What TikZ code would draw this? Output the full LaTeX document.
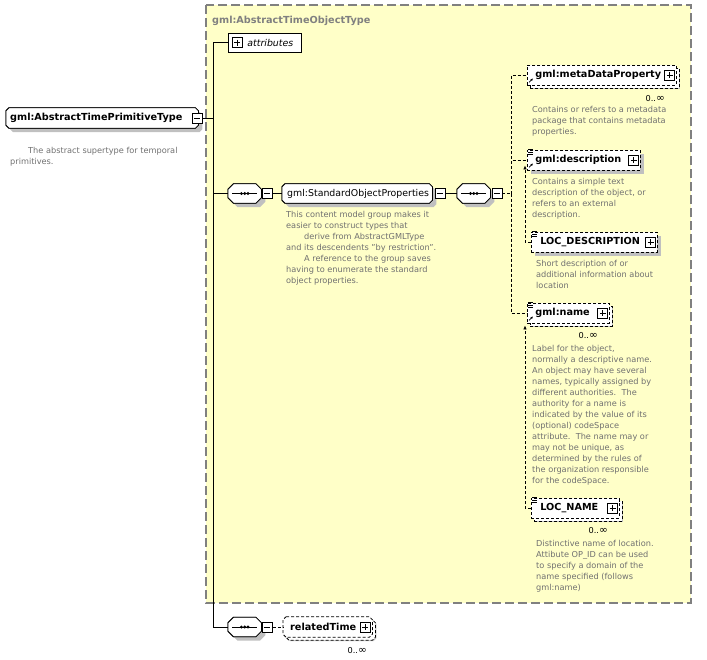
\documentclass[tikz,border=0pt]{standalone}
\usepackage{fontspec}
\setmainfont{DejaVu Sans}
\usetikzlibrary{shadows,arrows.meta,positioning}
\definecolor{areacolor}{HTML}{FFFFC8}
\definecolor{framegray}{HTML}{808080}
\definecolor{notegray}{HTML}{707070}
\definecolor{shadowgray}{HTML}{C0C0C0}
\pgfdeclarelayer{backdrop}
\pgfdeclarelayer{boxes}
\pgfsetlayers{backdrop,boxes,main}
\newcommand{\octpath}[2]{([xshift=#2]#1.north west) -- ([xshift=-#2]#1.north east) -- ([yshift=-#2]#1.north east) -- ([yshift=#2]#1.south east) -- ([xshift=-#2]#1.south east) -- ([xshift=#2]#1.south west) -- ([yshift=#2]#1.south west) -- ([yshift=-#2]#1.north west) -- cycle}
\tikzset{
	typearea/.style={
		draw=framegray,
		fill=areacolor,
		line width=1.2pt,
		dash pattern=on 9pt off 4pt
	},
	typetitle/.style={
		anchor=base west,
		inner sep=0pt,
		text=framegray,
		font=\bfseries\fontsize{9.7}{11}\selectfont
	},
	box/.style={
		rectangle,
		minimum height=20pt,
		inner xsep=0pt,
		inner ysep=0pt,
		anchor=west,
		align=left,
		font=\bfseries\fontsize{9.7}{11}\selectfont
	},
	elem/.style={
		box,
		draw=black,
		fill=white,
		line width=0.8pt,
		drop shadow={shadow xshift=4pt,shadow yshift=-4pt,fill=shadowgray,opacity=1}
	},
	optelem/.style={
		elem,
		dash pattern=on 3pt off 2pt
	},
	multi/.style={
		preaction={draw=black,fill=white,dash pattern=on 3pt off 2pt,
			transform canvas={shift={(3pt,-3pt)}}}
	},
	chamfer/.style n args={3}{
		draw=none,
		fill=none,
		append after command={\pgfextra{
			\begin{pgfonlayer}{boxes}
				\fill[shadowgray,transform canvas={shift={(4pt,-4pt)}}] \octpath{\tikzlastnode}{#1};
				\filldraw[fill=white,draw=black,line width=0.8pt,#2,transform canvas={shift={(#3,-#3)}}] \octpath{\tikzlastnode}{#1};
				\filldraw[fill=white,draw=black,line width=0.8pt,#2] \octpath{\tikzlastnode}{#1};
			\end{pgfonlayer}}}
	},
	attrbox/.style={
		box,
		draw=black,
		fill=white,
		line width=0.8pt,
		minimum height=19pt,
		font=\itshape\fontsize{9.4}{11}\selectfont
	},
	compositor/.style={
		rectangle,
		minimum width=33pt,
		minimum height=19pt,
		inner sep=0pt,
		anchor=west,
		chamfer={5.5pt}{}{0pt},
		append after command={\pgfextra{
			\begin{pgfonlayer}{boxes}
				\draw[line width=0.8pt] ([xshift=4pt]\tikzlastnode.west) -- ([xshift=-4pt]\tikzlastnode.east);
				\foreach \dx in {-3.3,0,3.3}
					\fill[black] ([xshift=\dx pt]\tikzlastnode.center) circle (1.6pt);
			\end{pgfonlayer}}}
	},
	plusbox/.style={
		rectangle,
		draw=black,
		fill=white,
		line width=0.8pt,
		minimum size=10pt,
		inner sep=0pt,
		path picture={
			\draw[line width=0.8pt] ([xshift=2pt]path picture bounding box.west) -- ([xshift=-2pt]path picture bounding box.east)
				([yshift=-2pt]path picture bounding box.north) -- ([yshift=2pt]path picture bounding box.south);
		}
	},
	minusbox/.style={
		rectangle,
		draw=black,
		fill=white,
		line width=0.8pt,
		minimum size=10pt,
		inner sep=0pt,
		path picture={
			\draw[line width=0.8pt] ([xshift=2pt]path picture bounding box.west) -- ([xshift=-2pt]path picture bounding box.east);
		}
	},
	note/.style={
		anchor=north west,
		inner sep=0pt,
		align=left,
		text=notegray,
		font=\fontsize{8.2}{11}\selectfont
	},
	occurs/.style={
		anchor=base east,
		inner sep=0pt,
		font=\fontsize{8.2}{11}\selectfont
	},
	link/.style={
		draw=black,
		line width=0.8pt
	},
	optlink/.style={
		link,
		dash pattern=on 3pt off 2pt
	},
	subst/.style={
		optlink,
		-{Latex[length=4pt,width=3.5pt]}
	},
}

\begin{document}
\begin{tikzpicture}[x=1pt,y=-1pt]
	\useasboundingbox (0,0) rectangle (707,659);
	% complex type
	\begin{pgfonlayer}{backdrop}
		\draw[typearea] (206,5) rectangle (691,603);
	\end{pgfonlayer}
	\node[typetitle] (title) at (212,23) {gml:AbstractTimeObjectType};
	% root element
	\node[box,chamfer={3pt}{}{0pt},text width=192pt] (root) at (6,118) {\kern4pt gml:AbstractTimePrimitiveType};
	\node[minusbox] (rootpm) at ([xshift=-1pt]root.east) {};
	\node[note] (rootnote) at (10,147) {\kern18pt The abstract supertype for temporal\\primitives.};
	\coordinate (trunk) at (213,118);
	% attributes
	\node[attrbox,text width=73pt] (attr) at (228,42.5) {\kern19pt attributes};
	\node[plusbox] (attrpm) at ([xshift=9pt]attr.west) {};
	% standard object properties
	\node[compositor] (seq1) at (228,193.5) {};
	\node[minusbox] (seq1pm) at ([xshift=6pt]seq1.east) {};
	\node[box,chamfer={3pt}{}{0pt},text width=150pt,minimum height=19pt,font=\fontsize{9.4}{11}\selectfont] (sop) at (282,193.5) {\kern5pt gml:StandardObjectProperties};
	\node[minusbox] (soppm) at ([xshift=7.5pt]sop.east) {};
	\node[note] (sopnote) at (286,211) {This content model group makes it\\easier to construct types that\\\kern18pt derive from AbstractGMLType\\and its descendents "by restriction".\\\kern18pt A reference to the group saves\\having to enumerate the standard\\object properties.};
	\node[compositor] (seq2) at (457,193.5) {};
	\node[minusbox] (seq2pm) at ([xshift=6.5pt]seq2.east) {};
	\coordinate (choice) at (511,193.5);
	% choice members
	\node[optelem,multi,text width=149pt] (meta) at (527,75) {\kern8pt gml:metaDataProperty};
	\node[plusbox] (metapm) at ([xshift=-7pt]meta.east) {};
	\node[occurs] (metaocc) at (665,101.5) {0..{\fontsize{10.5}{11}\selectfont∞}};
	\node[note] (metanote) at (532,106.5) {Contains or refers to a metadata\\package that contains metadata\\properties.};
	\node[optelem,text width=113pt] (desc) at (527,160) {\kern8pt gml:description};
	\node[plusbox] (descpm) at ([xshift=-7pt]desc.east) {};
	\node[note] (descnote) at (532,178) {Contains a simple text\\description of the object, or\\refers to an external\\description.};
	\node[optelem,text width=126pt] (locdesc) at (531,242) {\kern9pt LOC\_DESCRIPTION};
	\node[plusbox] (locdescpm) at ([xshift=-7pt]locdesc.east) {};
	\node[note] (locdescnote) at (536,260) {Short description of or\\additional information about\\location};
	\node[optelem,multi,text width=82pt] (name) at (527,313) {\kern8pt gml:name};
	\node[plusbox] (namepm) at ([xshift=-7pt]name.east) {};
	\node[occurs] (nameocc) at (598,338.5) {0..{\fontsize{10.5}{11}\selectfont∞}};
	\node[note] (namenote) at (532,345) {Label for the object,\\normally a descriptive name.\\An object may have several\\names, typically assigned by\\different authorities.\ \ The\\authority for a name is\\indicated by the value of its\\(optional) codeSpace\\attribute.\ \ The name may or\\may not be unique, as\\determined by the rules of\\the organization responsible\\for the codeSpace.};
	\node[optelem,multi,text width=88pt] (locname) at (531,508) {\kern9pt LOC\_NAME};
	\node[plusbox] (locnamepm) at ([xshift=-7pt]locname.east) {};
	\node[occurs] (locnameocc) at (608,533.5) {0..{\fontsize{10.5}{11}\selectfont∞}};
	\node[note] (locnamenote) at (536,540) {Distinctive name of location.\\Attibute OP\_ID can be used\\to specify a domain of the\\name specified (follows\\gml:name)};
	% related time
	\node[compositor] (seq3) at (228,627) {};
	\node[minusbox] (seq3pm) at ([xshift=6pt]seq3.east) {};
	\node[box,chamfer={3pt}{dash pattern=on 3pt off 2pt}{3pt},text width=89pt] (rt) at (283,627) {\kern7pt relatedTime};
	\node[plusbox] (rtpm) at ([xshift=-7pt]rt.east) {};
	\node[occurs] (rtocc) at (367,653.5) {0..{\fontsize{10.5}{11}\selectfont∞}};
	% icons
	\foreach \n in {desc,locdesc,name,locname}
		\draw[line width=0.6pt] ([xshift=1pt]\n.north west) -- ++(5,0) ++(-5,2.4) -- ++(5,0) ++(-5,2.4) -- ++(5,0);
	\foreach \n in {meta,desc,name}
		\draw[line width=0.7pt,-{Latex[length=2.5pt,width=2.5pt]}] ([shift={(2pt,3pt)}]\n.south west) -- ++(4,-4);
	% connectors
	\draw[link] (rootpm) -- (trunk);
	\draw[link] (attrpm.west) ++(-4,0) -| (trunk);
	\draw[link] (trunk) |- (seq1.west);
	\draw[link] (trunk) |- (seq3.west);
	\draw[link] (seq1pm) -- (sop.west);
	\draw[link] (soppm) -- (seq2.west);
	\draw[optlink] (seq2pm) -- (choice);
	\draw[optlink] (choice) |- (meta.west);
	\draw[optlink] (choice) |- (desc.west);
	\draw[optlink] (choice) |- (name.west);
	\draw[subst] (locdesc.west) -| ([shift={(-2pt,5pt)}]desc.south west);
	\draw[subst] (locname.west) -| ([shift={(-2pt,-2pt)}]name.south west);
	\draw[optlink] (seq3pm) -- (rt.west);
\end{tikzpicture}
\end{document}
